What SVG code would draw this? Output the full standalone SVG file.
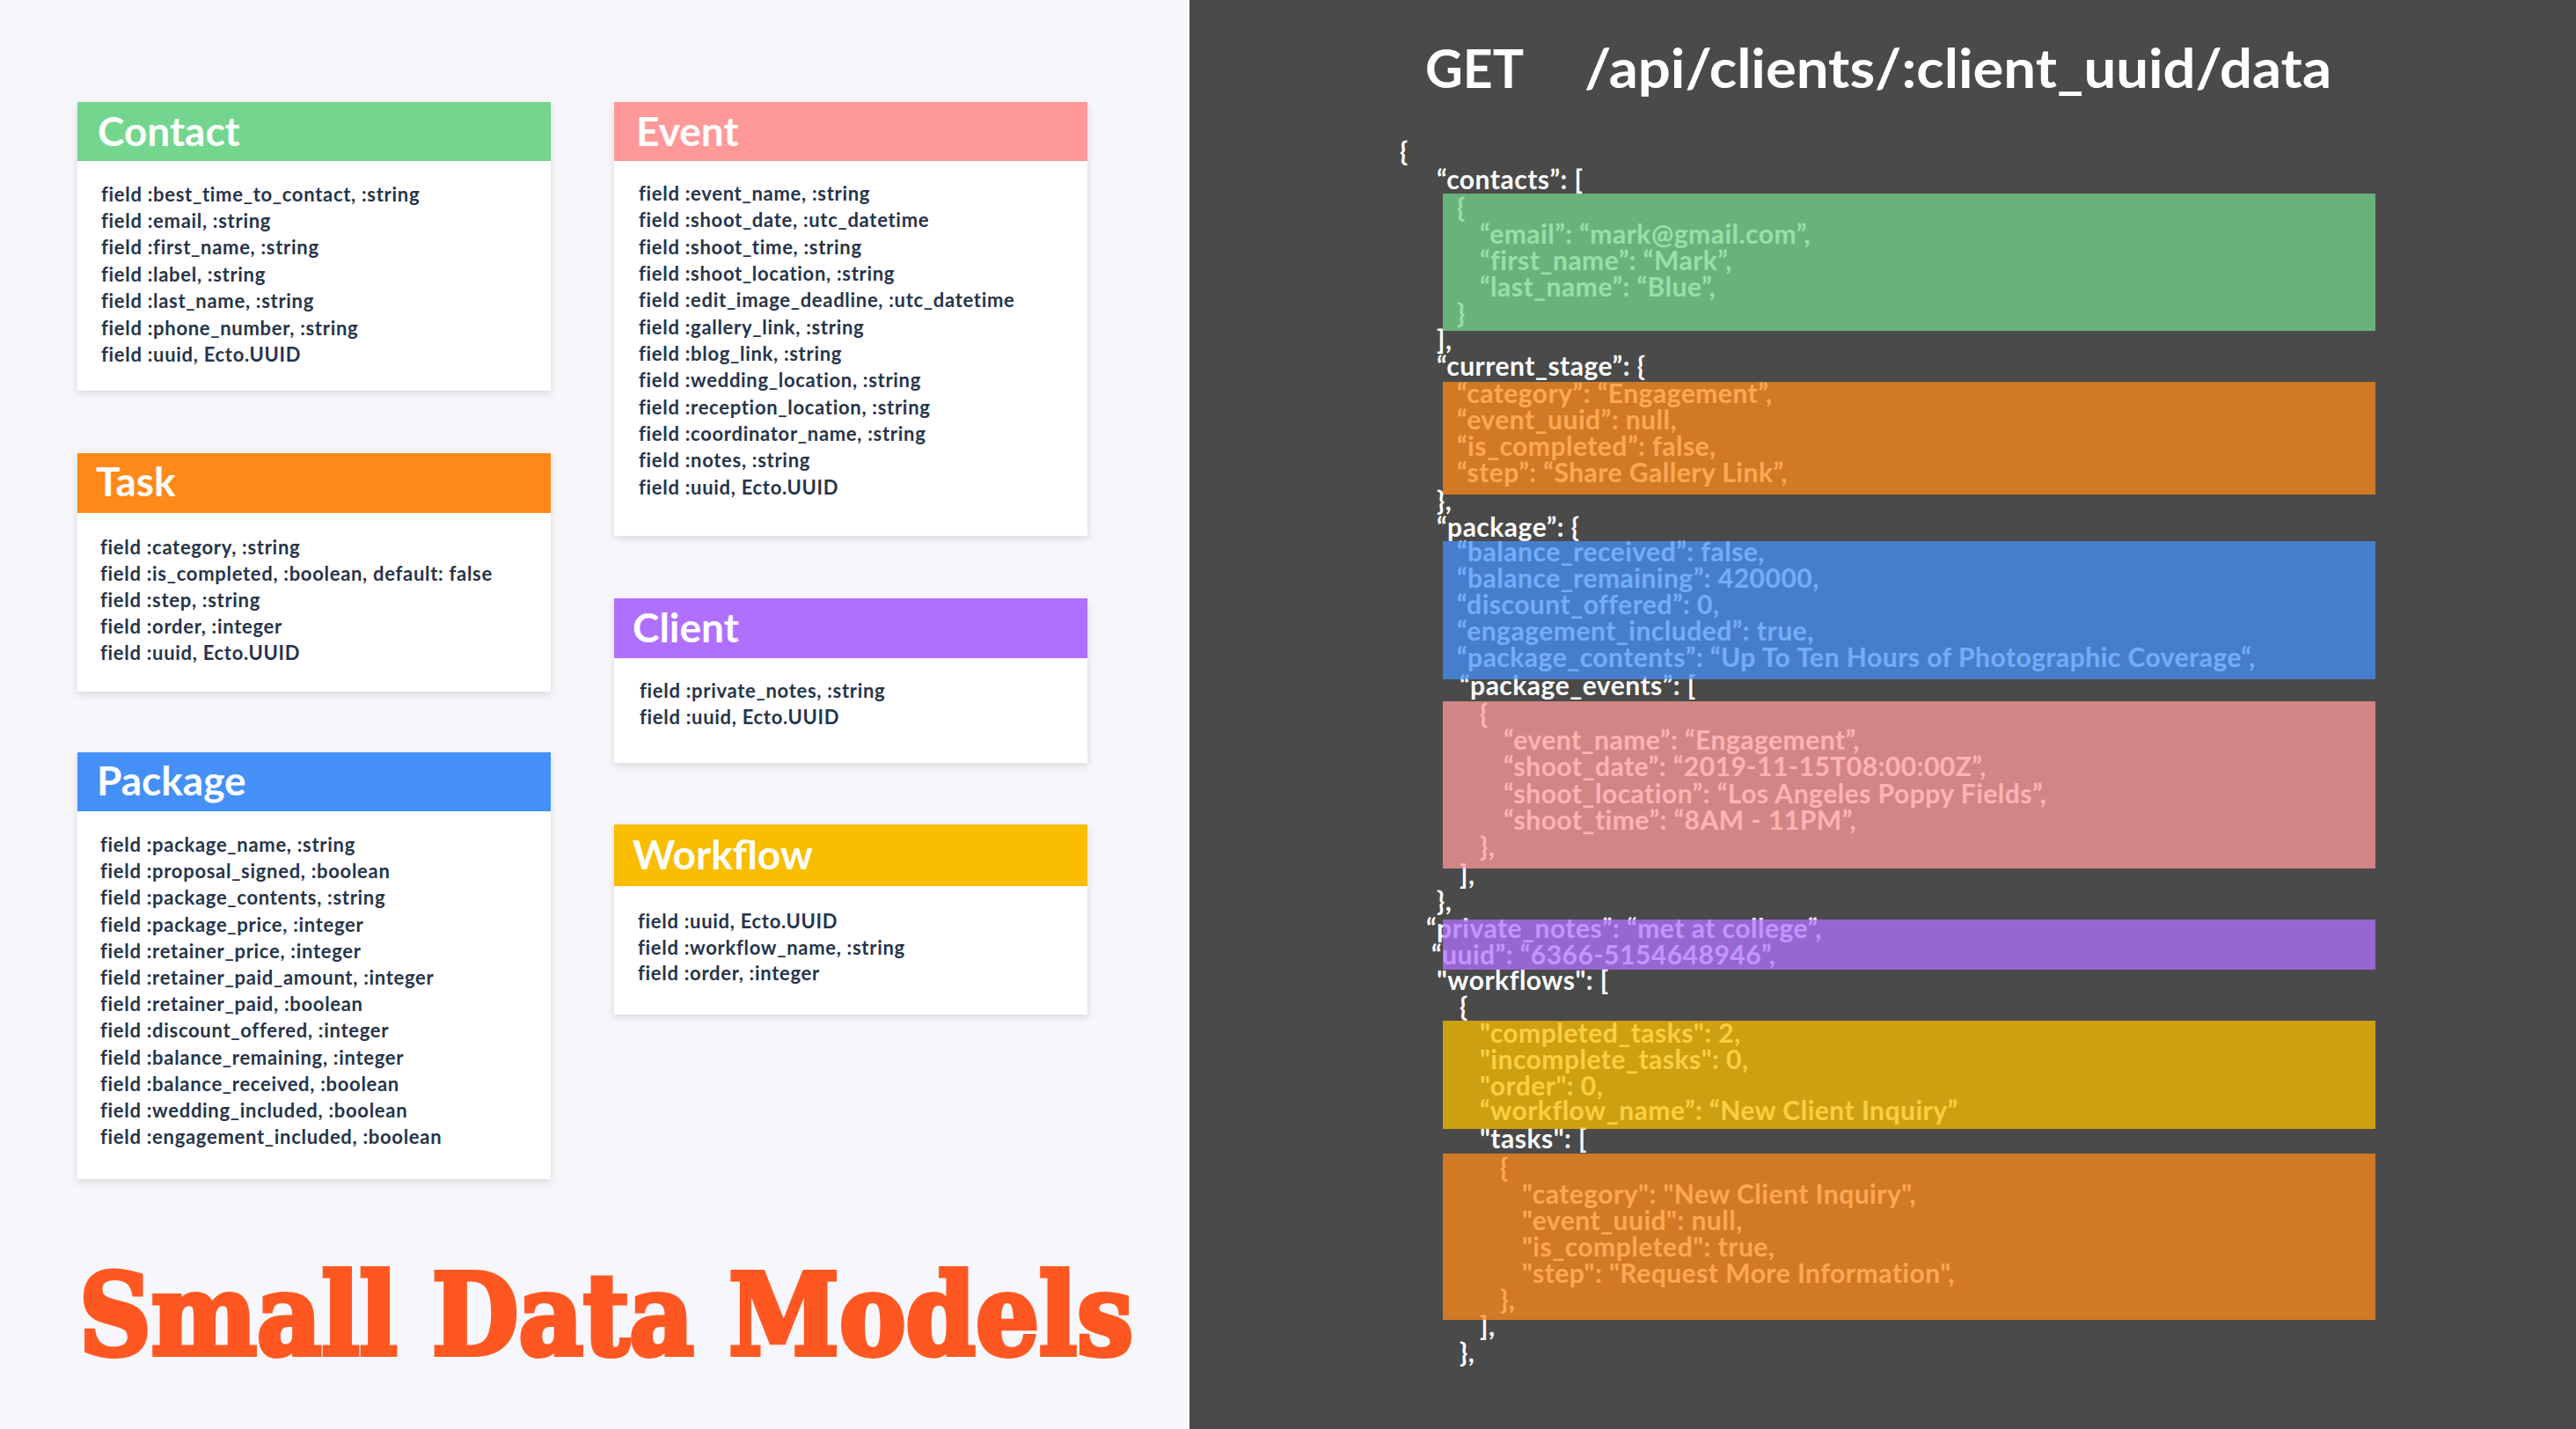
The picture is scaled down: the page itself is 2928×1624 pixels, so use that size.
<svg xmlns="http://www.w3.org/2000/svg" width="2928" height="1624" viewBox="0 0 2928 1624">
<defs>
<filter id="sh" x="-5%" y="-5%" width="110%" height="115%"><feDropShadow dx="0" dy="3" stdDeviation="4" flood-color="#000" flood-opacity="0.13"/></filter>
<style>
.card{fill:#ffffff;filter:url(#sh)}
.ttl{font-family:Lato,"Noto Sans",sans-serif;font-weight:700;font-size:46px;fill:#ffffff}
.fld{font-family:Lato,"Noto Sans",sans-serif;font-weight:700;font-size:22px;letter-spacing:0.7px;fill:#26344a}
.js{font-family:Lato,"Noto Sans",sans-serif;font-weight:700;font-size:30px;letter-spacing:0.5px;fill:#ffffff}
.ov{opacity:0.75}
</style>
</defs>
<rect x="0" y="0" width="1352" height="1624" fill="#f7f7fb"/>
<rect x="1352" y="0" width="1576" height="1624" fill="#4a4a4a"/>

<g id="contact">
<rect class="card" x="88" y="116" width="538" height="328"/>
<rect x="88" y="116" width="538" height="67" fill="#74d68e"/>
<text class="ttl" x="111" y="166">Contact</text>
<text class="fld" x="115" y="229">field :best_time_to_contact, :string</text>
<text class="fld" x="115" y="259">field :email, :string</text>
<text class="fld" x="115" y="289">field :first_name, :string</text>
<text class="fld" x="115" y="320">field :label, :string</text>
<text class="fld" x="115" y="350">field :last_name, :string</text>
<text class="fld" x="115" y="381">field :phone_number, :string</text>
<text class="fld" x="115" y="411">field :uuid, Ecto.UUID</text>
</g>

<g id="task">
<rect class="card" x="88" y="515" width="538" height="271"/>
<rect x="88" y="515" width="538" height="68" fill="#ff8a1a"/>
<text class="ttl" x="109" y="564">Task</text>
<text class="fld" x="114" y="630">field :category, :string</text>
<text class="fld" x="114" y="660">field :is_completed, :boolean, default: false</text>
<text class="fld" x="114" y="690">field :step, :string</text>
<text class="fld" x="114" y="720">field :order, :integer</text>
<text class="fld" x="114" y="750">field :uuid, Ecto.UUID</text>
</g>

<g id="package">
<rect class="card" x="88" y="855" width="538" height="485"/>
<rect x="88" y="855" width="538" height="67" fill="#4590f7"/>
<text class="ttl" x="110" y="904">Package</text>
<text class="fld" x="114" y="968">field :package_name, :string</text>
<text class="fld" x="114" y="998">field :proposal_signed, :boolean</text>
<text class="fld" x="114" y="1028">field :package_contents, :string</text>
<text class="fld" x="114" y="1059">field :package_price, :integer</text>
<text class="fld" x="114" y="1089">field :retainer_price, :integer</text>
<text class="fld" x="114" y="1119">field :retainer_paid_amount, :integer</text>
<text class="fld" x="114" y="1149">field :retainer_paid, :boolean</text>
<text class="fld" x="114" y="1179">field :discount_offered, :integer</text>
<text class="fld" x="114" y="1210">field :balance_remaining, :integer</text>
<text class="fld" x="114" y="1240">field :balance_received, :boolean</text>
<text class="fld" x="114" y="1270">field :wedding_included, :boolean</text>
<text class="fld" x="114" y="1300">field :engagement_included, :boolean</text>
</g>

<g id="event">
<rect class="card" x="698" y="116" width="538" height="493"/>
<rect x="698" y="116" width="538" height="67" fill="#ff9999"/>
<text class="ttl" x="723" y="166">Event</text>
<text class="fld" x="726" y="228">field :event_name, :string</text>
<text class="fld" x="726" y="258">field :shoot_date, :utc_datetime</text>
<text class="fld" x="726" y="289">field :shoot_time, :string</text>
<text class="fld" x="726" y="319">field :shoot_location, :string</text>
<text class="fld" x="726" y="349">field :edit_image_deadline, :utc_datetime</text>
<text class="fld" x="726" y="380">field :gallery_link, :string</text>
<text class="fld" x="726" y="410">field :blog_link, :string</text>
<text class="fld" x="726" y="440">field :wedding_location, :string</text>
<text class="fld" x="726" y="471">field :reception_location, :string</text>
<text class="fld" x="726" y="501">field :coordinator_name, :string</text>
<text class="fld" x="726" y="531">field :notes, :string</text>
<text class="fld" x="726" y="562">field :uuid, Ecto.UUID</text>
</g>

<g id="client">
<rect class="card" x="698" y="680" width="538" height="187"/>
<rect x="698" y="680" width="538" height="68" fill="#b070ff"/>
<text class="ttl" x="719" y="730">Client</text>
<text class="fld" x="727" y="793">field :private_notes, :string</text>
<text class="fld" x="727" y="823">field :uuid, Ecto.UUID</text>
</g>

<g id="workflow">
<rect class="card" x="698" y="937" width="538" height="216"/>
<rect x="698" y="937" width="538" height="70" fill="#fabd00"/>
<text class="ttl" x="719" y="988">Workflow</text>
<text class="fld" x="725" y="1055">field :uuid, Ecto.UUID</text>
<text class="fld" x="725" y="1085">field :workflow_name, :string</text>
<text class="fld" x="725" y="1114">field :order, :integer</text>
</g>

<g id="title">
<text x="90" y="1539" font-family="DejaVu Serif,Liberation Serif,serif" font-weight="700" font-size="128" fill="#ff5722" stroke="#ff5722" stroke-width="6" stroke-linejoin="miter" textLength="1198" lengthAdjust="spacingAndGlyphs">Small Data Models</text>
</g>

<g id="endpoint">
<text x="1620" y="100" font-family="Lato,'Noto Sans',sans-serif" font-weight="700" font-size="62" fill="#ffffff" textLength="112" lengthAdjust="spacingAndGlyphs">GET</text>
<text x="1801" y="100" font-family="Lato,'Noto Sans',sans-serif" font-weight="700" font-size="62" fill="#ffffff" textLength="849" lengthAdjust="spacingAndGlyphs">/api/clients/:client_uuid/data</text>
</g>

<g id="json">
<text class="js" x="1591" y="183">{</text>
<text class="js" x="1633" y="215">“contacts”: [</text>
<text class="js" x="1656" y="247">{</text>
<text class="js" x="1682" y="277">“email”: “mark@gmail.com”,</text>
<text class="js" x="1682" y="307">“first_name”: “Mark”,</text>
<text class="js" x="1682" y="337">“last_name”: “Blue”,</text>
<text class="js" x="1656" y="367">}</text>
<text class="js" x="1633" y="397">],</text>
<text class="js" x="1633" y="427">“current_stage”: {</text>
<text class="js" x="1656" y="458">“category”: “Engagement”,</text>
<text class="js" x="1656" y="488">“event_uuid”: null,</text>
<text class="js" x="1656" y="518">“is_completed”: false,</text>
<text class="js" x="1656" y="548">“step”: “Share Gallery Link”,</text>
<text class="js" x="1633" y="580">},</text>
<text class="js" x="1633" y="610">“package”: {</text>
<text class="js" x="1656" y="638">“balance_received”: false,</text>
<text class="js" x="1656" y="668">“balance_remaining”: 420000,</text>
<text class="js" x="1656" y="698">“discount_offered”: 0,</text>
<text class="js" x="1656" y="728">“engagement_included”: true,</text>
<text class="js" x="1656" y="758">“package_contents”: “Up To Ten Hours of Photographic Coverage“,</text>
<text class="js" x="1659" y="790">“package_events”: [</text>
<text class="js" x="1682" y="822">{</text>
<text class="js" x="1709" y="852">“event_name”: “Engagement”,</text>
<text class="js" x="1709" y="882">“shoot_date”: “2019-11-15T08:00:00Z”,</text>
<text class="js" x="1709" y="913">“shoot_location”: “Los Angeles Poppy Fields”,</text>
<text class="js" x="1709" y="943">“shoot_time”: “8AM - 11PM”,</text>
<text class="js" x="1682" y="973">},</text>
<text class="js" x="1659" y="1005">],</text>
<text class="js" x="1633" y="1035">},</text>
<text class="js" x="1621" y="1066">“private_notes”: “met at college”,</text>
<text class="js" x="1627" y="1096">“uuid”: “6366-5154648946”,</text>
<text class="js" x="1633" y="1125">"workflows": [</text>
<text class="js" x="1659" y="1155">{</text>
<text class="js" x="1682" y="1185">"completed_tasks": 2,</text>
<text class="js" x="1682" y="1215">"incomplete_tasks": 0,</text>
<text class="js" x="1682" y="1245">"order": 0,</text>
<text class="js" x="1682" y="1273">“workflow_name”: “New Client Inquiry”</text>
<text class="js" x="1682" y="1305">"tasks": [</text>
<text class="js" x="1705" y="1338">{</text>
<text class="js" x="1730" y="1368">"category": "New Client Inquiry",</text>
<text class="js" x="1730" y="1398">"event_uuid": null,</text>
<text class="js" x="1730" y="1428">"is_completed": true,</text>
<text class="js" x="1730" y="1458">"step": "Request More Information",</text>
<text class="js" x="1705" y="1488">},</text>
<text class="js" x="1682" y="1518">],</text>
<text class="js" x="1659" y="1548">},</text>
</g>

<g id="highlights">
<rect class="ov" x="1640" y="220" width="1060" height="156" fill="#74d68e"/>
<rect class="ov" x="1640" y="434" width="1060" height="128" fill="#ff8a1a"/>
<rect class="ov" x="1640" y="615" width="1060" height="157" fill="#4590f7"/>
<rect class="ov" x="1640" y="797" width="1060" height="190" fill="#ff9999"/>
<rect class="ov" x="1640" y="1045" width="1060" height="57" fill="#b070ff"/>
<rect class="ov" x="1640" y="1160" width="1060" height="123" fill="#fabd00"/>
<rect class="ov" x="1640" y="1311" width="1060" height="189" fill="#ff8a1a"/>
</g>

<g id="connectors"/>
</svg>
